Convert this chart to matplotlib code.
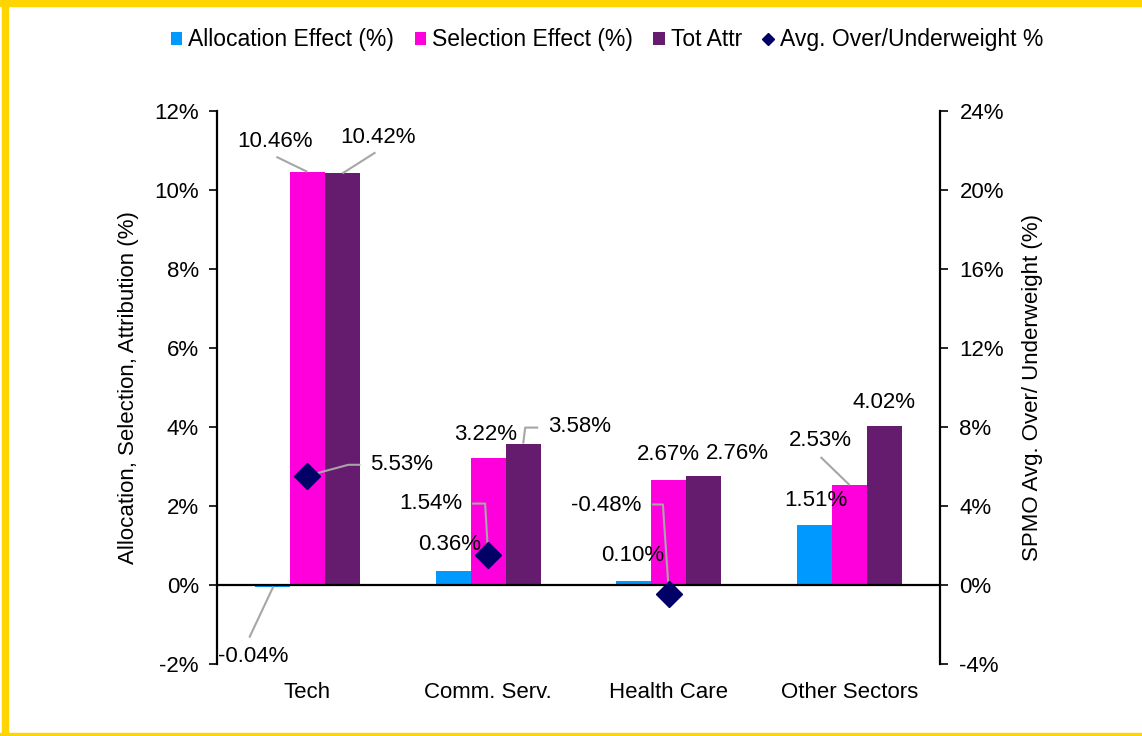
import numpy as np
import matplotlib
matplotlib.use("Agg")
import matplotlib.pyplot as plt
import matplotlib.transforms as mtransforms
from matplotlib.patches import Rectangle

plt.rcParams['font.family'] = ['Liberation Sans', 'DejaVu Sans']

# ---------------- data ----------------
categories = ['Tech', 'Comm. Serv.', 'Health Care', 'Other Sectors']
allocation = [-0.04, 0.36, 0.10, 1.51]
selection = [10.46, 3.22, 2.67, 2.53]
tot_attr = [10.42, 3.58, 2.76, 4.02]
avg_weight = [5.53, 1.54, -0.48, np.nan]

left_ticks = [-2, 0, 2, 4, 6, 8, 10, 12]
right_ticks = [-4, 0, 4, 8, 12, 16, 20, 24]

# ---------------- style ----------------
C_ALLOC = '#0099FF'
C_SEL = '#FF00DC'
C_TOT = '#651C6F'
C_AVG = '#000066'
C_LEAD = '#A6A6A6'
FS = 16

fig = plt.figure(figsize=(11.42, 7.36), dpi=100)
ax = fig.add_axes([217 / 1142, 1 - 664 / 736, (940 - 217) / 1142, (664 - 111) / 736])
ax2 = ax.twinx()

x = np.arange(len(categories))
w = 0.194
b1 = ax.bar(x - w, allocation, w, color=C_ALLOC, label='Allocation Effect (%)', zorder=2)
b2 = ax.bar(x, selection, w, color=C_SEL, label='Selection Effect (%)', zorder=2)
b3 = ax.bar(x + w, tot_attr, w, color=C_TOT, label='Tot Attr', zorder=2)
ax.axhline(0, color='black', lw=1.6, zorder=3)

ln, = ax2.plot(x, avg_weight, linestyle='none', marker='D', markersize=13,
               color=C_AVG, label='Avg. Over/Underweight %', zorder=5)

ax.set_xlim(-0.5, len(categories) - 0.5)
ax.set_ylim(-2, 12)
ax2.set_ylim(-4, 24)

ax.set_yticks(left_ticks)
ax.set_yticklabels([f'{t}%' for t in left_ticks])
ax2.set_yticks(right_ticks)
ax2.set_yticklabels([f'{t}%' for t in right_ticks])
ax.set_xticks(x)
ax.set_xticklabels(categories)

ax.tick_params(axis='x', length=0, pad=13, labelsize=FS)
ax.tick_params(axis='y', direction='out', length=6, width=1.2, pad=7, labelsize=FS)
ax2.tick_params(axis='y', direction='out', length=6, width=1.2, pad=8, labelsize=FS)

for s in ['top', 'bottom', 'right']:
    ax.spines[s].set_visible(False)
for s in ['top', 'bottom', 'left']:
    ax2.spines[s].set_visible(False)
ax.spines['left'].set_linewidth(1.6)
ax2.spines['right'].set_linewidth(1.6)

ax.set_ylabel('Allocation, Selection, Attribution (%)', fontsize=FS)
ax.yaxis.set_label_coords(-0.108, 0.5)
ax2.set_ylabel('SPMO Avg. Over/ Underweight (%)', fontsize=FS)
ax2.yaxis.set_label_coords(1.1135, 0.5)

# ---------------- data labels ----------------
# per series: (text offset dx, dy in pixels, ha, leader polyline offsets)
lab_alloc = [((-19, -70), 'center', [(1, 0), (-23, -51)]),
             ((-3, 26), 'center', None),
             ((-1, 26), 'center', None),
             ((1, 25), 'center', None)]
lab_sel = [((-32, 30), 'center', [(0, 0), (-31, 15)]),
           ((-3, 23), 'center', None),
           ((-1, 25), 'center', None),
           ((-29, 45), 'center', [(0, 0), (-29, 28)])]
lab_tot = [((36, 36), 'center', [(0, 0), (33, 21)]),
           ((25, 17), 'left', [(0, 0), (2, 16), (15, 16)]),
           ((33, 22), 'center', None),
           ((-1, 24), 'center', None)]
lab_avg = [((63, 11), 'left', [(0, 0), (41, 11), (53, 11)]),
           ((-26, 51), 'right', [(0, 0), (-3, 51), (-16, 51)]),
           ((-27, 89), 'right', [(0, 2), (-6, 90), (-17, 90)]),
           None]


def put_labels(axis, xs, vals, specs):
    for xi, v, spec in zip(xs, vals, specs):
        if spec is None or np.isnan(v):
            continue
        (dx, dy), ha, lead = spec
        axis.annotate(f'{v:.2f}%', xy=(xi, v), xytext=(dx, dy),
                      textcoords='offset pixels', ha=ha, va='center',
                      fontsize=FS, color='black', zorder=6,
                      annotation_clip=False)
        if lead is not None:
            tr = mtransforms.ScaledTranslation(xi, v, axis.transData)
            lx = [p[0] for p in lead]
            ly = [p[1] for p in lead]
            axis.plot(lx, ly, color=C_LEAD, lw=1.5, transform=tr,
                      zorder=4, clip_on=False, solid_capstyle='butt')


put_labels(ax, x - w, allocation, lab_alloc)
put_labels(ax, x, selection, lab_sel)
put_labels(ax, x + w, tot_attr, lab_tot)
put_labels(ax2, x, avg_weight, lab_avg)

# ---------------- legend ----------------
fig.legend(handles=[b1, b2, b3, ln], loc='center', bbox_to_anchor=(0.5315, 0.9457),
           ncol=4, frameon=False, fontsize=16.5, handlelength=0.5, handleheight=0.5,
           handletextpad=0.25, columnspacing=0.9, markerscale=0.45)

# ---------------- yellow frame ----------------
Y = '#FFD500'
fig.patches.append(Rectangle((0, 1 - 6 / 736), 1, 6 / 736, transform=fig.transFigure,
                             color=Y, zorder=0))
fig.patches.append(Rectangle((2 / 1142, 0), 6 / 1142, 1, transform=fig.transFigure,
                             color=Y, zorder=0))
fig.patches.append(Rectangle((0, 1 / 736), 1, 2 / 736, transform=fig.transFigure,
                             color=Y, zorder=0))

fig.savefig('out.png', dpi=100)
